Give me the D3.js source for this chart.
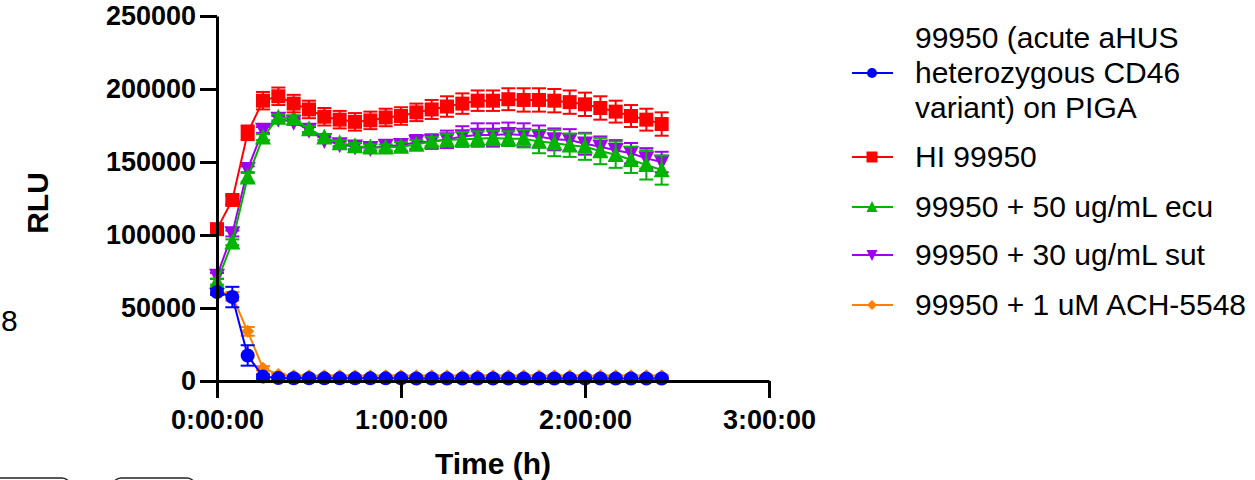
<!DOCTYPE html>
<html>
<head>
<meta charset="utf-8">
<script src="https://cdn.jsdelivr.net/npm/d3@7"></script>
<style>
  body { margin: 0; background: #fff; }
  svg { display: block; font-family: "Liberation Sans", Arial, sans-serif; }
</style>
</head>
<body>
<div id="chart"></div>
<script>
// time points in minutes
const minutes = [0, 5, 10, 15, 20, 25, 30, 35, 40, 45, 50, 55, 60, 65, 70, 75, 80, 85, 90, 95, 100, 105, 110, 115, 120, 125, 130, 135, 140, 145];

const blueVals = [61000, 57500, 17500, 3000, 2000, 1900, 1900, 1800, 1800, 1800, 1800, 1800, 1800, 1700, 1700, 1700, 1700, 1700, 1700, 1700, 1700, 1700, 1700, 1700, 1700, 1700, 1700, 1700, 1700, 1700];
const blueErr = [2000, 7000, 7000, 1500, 500, 500, 500, 500, 500, 500, 500, 500, 500, 500, 500, 500, 500, 500, 500, 500, 500, 500, 500, 500, 500, 500, 500, 500, 500, 500];

const redVals = [104000, 124000, 170000, 192000, 195000, 190000, 186000, 181000, 179000, 177500, 178500, 180500, 181500, 184000, 186000, 188000, 190000, 192000, 192000, 193000, 192500, 192500, 192000, 191000, 189500, 187000, 184500, 181500, 179000, 176000];
const redErr = [3000, 3000, 5000, 6000, 6000, 6000, 6000, 6000, 6000, 6000, 6000, 6000, 6000, 6000, 6500, 7000, 7000, 7000, 7000, 7500, 8000, 8000, 8000, 8000, 8000, 8000, 7500, 7500, 7500, 8000];

const greenVals = [68000, 95000, 139500, 167000, 180500, 180000, 172500, 167000, 163000, 161000, 160000, 160000, 160500, 162000, 164000, 165000, 165500, 166000, 166500, 166000, 166000, 164000, 163000, 161500, 160500, 157500, 155000, 151500, 148000, 144500];
const greenErr = [2000, 2000, 3000, 2000, 2000, 2000, 2000, 2000, 2000, 2000, 2000, 2000, 3000, 3000, 3000, 4000, 5000, 5000, 5000, 5000, 6000, 8000, 9000, 8000, 9000, 9000, 9000, 9000, 10000, 10000];

const purpleVals = [72000, 101000, 145000, 172000, 179500, 177500, 172000, 165000, 162000, 160500, 159500, 161000, 161500, 163500, 164000, 165500, 167500, 168500, 168500, 169000, 168500, 167500, 165500, 165000, 162500, 160500, 158000, 156000, 152500, 150000];
const purpleErr = [2000, 2000, 2000, 2000, 2000, 2000, 2000, 2000, 2000, 2500, 3000, 4000, 4000, 5000, 5000, 6000, 7000, 8000, 8000, 8000, 8000, 7500, 7500, 7500, 7500, 7000, 7000, 7000, 7000, 7000];

const orangeVals = [62000, 58000, 34000, 8700, 4500, 3600, 3600, 3600, 3600, 3600, 3600, 3600, 3600, 3600, 3600, 3600, 3600, 3600, 3600, 3600, 3600, 3600, 3600, 3600, 3600, 3600, 3600, 3600, 3600, 3600];
const orangeErr = [2000, 3000, 3000, 1500, 500, 500, 500, 500, 500, 500, 500, 500, 500, 500, 500, 500, 500, 500, 500, 500, 500, 500, 500, 500, 500, 500, 500, 500, 500, 500];

const seriesNames = [
  ["99950 (acute aHUS", "heterozygous CD46", "variant) on PIGA"],
  ["HI 99950"],
  ["99950 + 50 ug/mL ecu"],
  ["99950 + 30 ug/mL sut"],
  ["99950 + 1 uM ACH-5548"]
];
const yTicks = [0, 50000, 100000, 150000, 200000, 250000];
const xTicks = [0, 1, 2, 3];
const xTickLabels = ["0:00:00", "1:00:00", "2:00:00", "3:00:00"];

const series = [
  {name: seriesNames[0], vals: blueVals, err: blueErr, color: "#0000ff", sym: "circle"},
  {name: seriesNames[1], vals: redVals, err: redErr, color: "#ff0000", sym: "square"},
  {name: seriesNames[2], vals: greenVals, err: greenErr, color: "#00b400", sym: "triangle"},
  {name: seriesNames[3], vals: purpleVals, err: purpleErr, color: "#a000f0", sym: "triangleDown"},
  {name: seriesNames[4], vals: orangeVals, err: orangeErr, color: "#ff8000", sym: "diamond"}
];

const width = 1255, height = 480;
const svg = d3.select("#chart").append("svg")
  .attr("width", width)
  .attr("height", height);

const x = d3.scaleLinear().domain([0, 3]).range([217, 769]);
const y = d3.scaleLinear().domain([0, 250000]).range([381, 16]);

// marker shapes
const symPath = (kind, s) => {
  if (kind === "circle") return d3.symbol().type(d3.symbolCircle).size(Math.PI * s * s / 4)();
  if (kind === "square") return d3.symbol().type(d3.symbolSquare).size(s * s)();
  if (kind === "triangle") return `M0,${-s * 0.55}L${s / 2},${s * 0.45}L${-s / 2},${s * 0.45}Z`;
  if (kind === "triangleDown") return `M0,${s * 0.55}L${s / 2},${-s * 0.45}L${-s / 2},${-s * 0.45}Z`;
  return `M0,${-s / 2}L${s / 2},0L0,${s / 2}L${-s / 2},0Z`;
};
const markSize = {circle: 14, square: 14, triangle: 16, triangleDown: 16, diamond: 13};
const legSize = {circle: 10, square: 11, triangle: 11, triangleDown: 11, diamond: 10};

// axes
const yAxis = g => g
  .attr("transform", `translate(${x(0)},0)`)
  .call(d3.axisLeft(y).tickValues(yTicks).tickFormat(d => d).tickSize(17).tickSizeOuter(0))
  .call(g => g.selectAll("line, path").attr("stroke", "#000").attr("stroke-width", 3))
  .call(g => g.selectAll(".tick text")
    .attr("x", -21)
    .attr("font-size", 27)
    .attr("font-weight", "bold")
    .attr("font-family", "Liberation Sans, Arial")
    .attr("fill", "#000"));

const xAxis = g => g
  .attr("transform", `translate(0,${y(0)})`)
  .call(d3.axisBottom(x).tickValues(xTicks).tickFormat((d, i) => xTickLabels[i]).tickSize(17).tickSizeOuter(0))
  .call(g => g.selectAll("line, path").attr("stroke", "#000").attr("stroke-width", 3))
  .call(g => g.selectAll(".tick text")
    .attr("y", 29)
    .attr("font-size", 27)
    .attr("font-weight", "bold")
    .attr("font-family", "Liberation Sans, Arial")
    .attr("fill", "#000"));

// draw series, last one first so blue ends on top
const plot = svg.append("g");
series.slice().reverse().forEach(s => {
  const pts = minutes.map((m, i) => ({t: m / 60, v: s.vals[i], e: s.err[i]}));
  const g = plot.append("g");
  g.append("path")
    .datum(pts)
    .attr("fill", "none")
    .attr("stroke", s.color)
    .attr("stroke-width", 2)
    .attr("d", d3.line().x(d => x(d.t)).y(d => y(d.v)));
  const eb = g.selectAll(".eb").data(pts).join("g")
    .attr("stroke", s.color)
    .attr("stroke-width", 2);
  eb.append("line")
    .attr("x1", d => x(d.t)).attr("x2", d => x(d.t))
    .attr("y1", d => y(d.v + d.e)).attr("y2", d => y(Math.max(0, d.v - d.e)));
  eb.append("line")
    .attr("x1", d => x(d.t) - 7).attr("x2", d => x(d.t) + 7)
    .attr("y1", d => y(d.v + d.e)).attr("y2", d => y(d.v + d.e));
  eb.append("line")
    .filter(d => d.v - d.e > 0)
    .attr("x1", d => x(d.t) - 7).attr("x2", d => x(d.t) + 7)
    .attr("y1", d => y(d.v - d.e)).attr("y2", d => y(d.v - d.e));
  g.selectAll(".mk").data(pts).join("path")
    .attr("transform", d => `translate(${x(d.t)},${y(d.v)})`)
    .attr("d", symPath(s.sym, markSize[s.sym]))
    .attr("fill", s.color);
});

svg.append("g").call(xAxis);
svg.append("g").call(yAxis);

// axis titles
svg.append("text")
  .attr("transform", `translate(48,203) rotate(-90)`)
  .attr("text-anchor", "middle")
  .attr("font-size", 30)
  .attr("font-weight", "bold")
  .text("RLU");
svg.append("text")
  .attr("x", 493)
  .attr("y", 474)
  .attr("text-anchor", "middle")
  .attr("font-size", 30)
  .attr("font-weight", "bold")
  .text("Time (h)");

// legend
const legRows = [73, 157, 207, 255, 305];
const leg = svg.append("g");
series.forEach((s, i) => {
  const cy = legRows[i];
  leg.append("line")
    .attr("x1", 852).attr("x2", 893)
    .attr("y1", cy).attr("y2", cy)
    .attr("stroke", s.color)
    .attr("stroke-width", 2);
  leg.append("path")
    .attr("transform", `translate(872,${cy})`)
    .attr("d", symPath(s.sym, legSize[s.sym]))
    .attr("fill", s.color);
  const n = s.name.length;
  s.name.forEach((line, j) => {
    leg.append("text")
      .attr("x", 915)
      .attr("y", cy + (j - (n - 1) / 2) * 35 + 10)
      .attr("font-size", 30)
      .text(line);
  });
});

// stray bits around the edges of the original screenshot
svg.append("text")
  .attr("x", 1)
  .attr("y", 331)
  .attr("font-size", 30)
  .text("8");
svg.append("rect")
  .attr("x", -10).attr("y", 478).attr("width", 80).attr("height", 30).attr("rx", 8)
  .attr("fill", "none").attr("stroke", "#222").attr("stroke-width", 1.5);
svg.append("rect")
  .attr("x", 113).attr("y", 478).attr("width", 82).attr("height", 30).attr("rx", 8)
  .attr("fill", "none").attr("stroke", "#222").attr("stroke-width", 1.5);
</script>
</body>
</html>
